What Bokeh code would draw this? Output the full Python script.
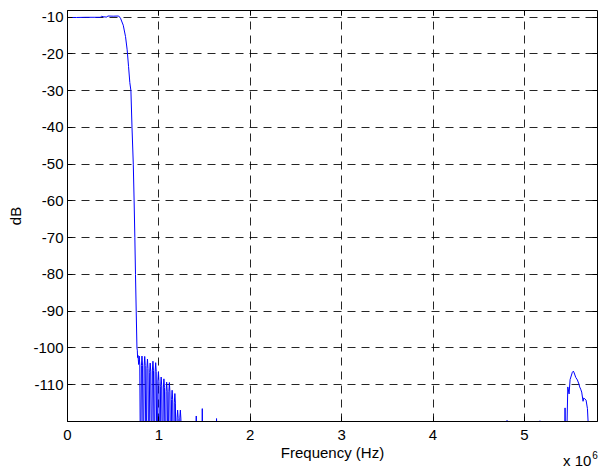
import numpy as np
from bokeh.plotting import figure
from bokeh.models import FixedTicker, Range1d, CustomJSTickFormatter, LinearAxis
from bokeh.embed import file_html
from bokeh.resources import INLINE

# ---- data (frequency in MHz, magnitude in dB) ----
pass_freq = [0.0, 0.10, 0.20, 0.30, 0.36, 0.372, 0.39, 0.43, 0.44, 0.50, 0.56,
             0.58, 0.61, 0.635, 0.653, 0.668, 0.682, 0.694, 0.706, 0.720,
             0.729, 0.737, 0.744, 0.752, 0.760, 0.764, 0.767, 0.771, 0.775]
pass_db = [-10.1, -10.1, -10.05, -10.05, -10.05, -9.75, -9.9, -10.0, -9.7, -9.75, -9.7,
           -10.3, -12.2, -15.3, -18.9, -23.4, -27.8, -30.0, -40.0, -50.0,
           -60.0, -70.0, -80.0, -90.0, -100.0, -100.6, -102.6, -102.0, -103.2]

ripple_freq = [0.779, 0.785, 0.791, 0.800,
               0.809, 0.815, 0.821, 0.830,
               0.839, 0.845, 0.851, 0.860,
               0.869, 0.875, 0.881, 0.890,
               0.899, 0.905, 0.911, 0.920,
               0.929, 0.935, 0.941, 0.950,
               0.959, 0.965, 0.971, 0.980,
               0.989, 0.995, 1.001, 1.010,
               1.019, 1.025, 1.031, 1.040,
               1.049, 1.055, 1.061, 1.070,
               1.079, 1.085, 1.091, 1.100,
               1.109, 1.115, 1.121, 1.130,
               1.139, 1.145, 1.151, 1.160,
               1.169, 1.175, 1.181, 1.190,
               1.199, 1.205, 1.211, 1.220,
               1.229, 1.235, 1.241, 1.250]
ripple_db = [-104.5, -102.2, -104.6, -140,
             -104.8, -102.2, -104.7, -140,
             -104.9, -102.3, -104.8, -140,
             -105.5, -103.0, -105.6, -140,
             -106.6, -104.1, -106.5, -140,
             -106.0, -103.6, -106.2, -140,
             -106.5, -104.0, -106.4, -140,
             -109.0, -106.5, -109.1, -140,
             -110.4, -107.9, -110.3, -140,
             -110.9, -108.4, -110.8, -140,
             -111.8, -109.3, -111.7, -140,
             -111.9, -109.4, -112.0, -140,
             -114.0, -111.5, -114.1, -140,
             -114.9, -112.4, -115.0, -140,
             -119.0, -116.9, -119.2, -140,
             -119.0, -116.9, -119.3, -140]

spur_freq = [1.405, 1.409, 1.413, 1.471, 1.475, 1.479, 1.627, 1.631, 1.635,
             4.806, 4.810, 4.814, 5.166, 5.170, 5.174, 5.441, 5.445, 5.449]
spur_db = [-140, -118.5, -140, -140, -116.5, -140, -140, -119.2, -140,
           -140, -119.7, -140, -140, -119.8, -140, -140, -116.3, -140]

image_freq = [5.463, 5.475, 5.489, 5.500, 5.525, 5.536, 5.545, 5.562, 5.580,
              5.598, 5.605, 5.616, 5.627, 5.642, 5.650, 5.660, 5.675, 5.690,
              5.707, 5.800]
image_db = [-125, -110.6, -112.5, -108.6, -106.6, -106.3, -106.8, -108.0, -108.7,
            -109.9, -110.6, -111.2, -112.0, -114.5, -113.6, -113.8, -114.2, -116.5,
            -125, -140]

x_ticks_mhz = [0, 1, 2, 3, 4, 5]
y_ticks = [-110, -100, -90, -80, -70, -60, -50, -40, -30, -20, -10]
x_label = "Frequency (Hz)"
y_label = "dB"
scale_text = "x 10"
scale_exp = "6"

freq_hz = np.array(pass_freq + ripple_freq + spur_freq + image_freq) * 1e6
mag_db = np.array(pass_db + ripple_db + spur_db + image_db)

FONT = "Liberation Sans"

p = figure(width=599, height=471, output_backend="svg", toolbar_location=None,
           x_range=Range1d(0, 5.8e6), y_range=Range1d(-120, -8.2),
           min_border_left=67, min_border_right=2, min_border_top=10,
           min_border_bottom=47, background_fill_color="white",
           border_fill_color="white")

p.line(freq_hz, mag_db, line_color="#0000ff", line_width=1)

xt = FixedTicker(ticks=[t * 1e6 for t in x_ticks_mhz])
yt = FixedTicker(ticks=y_ticks)
p.xaxis.ticker = xt
p.yaxis.ticker = yt
p.xgrid.ticker = xt
p.ygrid.ticker = yt
p.xaxis.formatter = CustomJSTickFormatter(code="return (tick/1e6).toFixed(0);")
p.yaxis.formatter = CustomJSTickFormatter(code="return tick.toFixed(0);")

for ax in (p.xaxis, p.yaxis):
    ax.axis_line_color = "black"
    ax.major_tick_line_color = "black"
    ax.major_tick_in = 5
    ax.major_tick_out = 0
    ax.minor_tick_line_color = None
    ax.major_label_text_font = FONT
    ax.major_label_text_font_size = "15px"
    ax.major_label_text_color = "black"
    ax.axis_label_text_font = FONT
    ax.axis_label_text_font_size = "15px"
    ax.axis_label_text_font_style = "normal"
    ax.axis_label_text_color = "black"

p.xaxis.axis_label = x_label
p.yaxis.axis_label = y_label
p.xaxis.major_label_standoff = 8
p.xaxis.axis_label_standoff = 1
p.yaxis.major_label_standoff = 4
p.yaxis.axis_label_standoff = 6

# inward ticks on the top and right edges (box style)
for tk, side in ((xt, "above"), (yt, "right")):
    p.add_layout(LinearAxis(ticker=tk,
                            formatter=CustomJSTickFormatter(code="return '';"),
                            axis_line_color=None, major_tick_line_color="black",
                            minor_tick_line_color=None, major_tick_in=5,
                            major_tick_out=0, major_label_standoff=0,
                            major_label_text_font_size="0px"), side)

# multiplier "x 10^6" drawn as tick labels of two bare extra axes
def bare_axis(tick, text, size, standoff):
    ax = LinearAxis(ticker=FixedTicker(ticks=[tick]),
                    formatter=CustomJSTickFormatter(code="return %r;" % text),
                    axis_line_color=None, major_tick_line_color=None,
                    minor_tick_line_color=None, major_tick_in=0, major_tick_out=0,
                    major_label_standoff=standoff,
                    major_label_text_font=FONT,
                    major_label_text_font_size=size,
                    major_label_text_color="black")
    p.add_layout(ax, "below")

bare_axis(5.578e6, scale_text, "15px", -12)
bare_axis(5.773e6, scale_exp, "10px", -21)

p.grid.grid_line_color = "black"
p.grid.grid_line_dash = "8 6"
p.grid.grid_line_width = 1
p.grid.grid_line_alpha = 0.85

p.outline_line_color = "black"
p.outline_line_width = 1
p.outline_line_alpha = 1

open("out.html", "w").write(file_html(p, INLINE))
